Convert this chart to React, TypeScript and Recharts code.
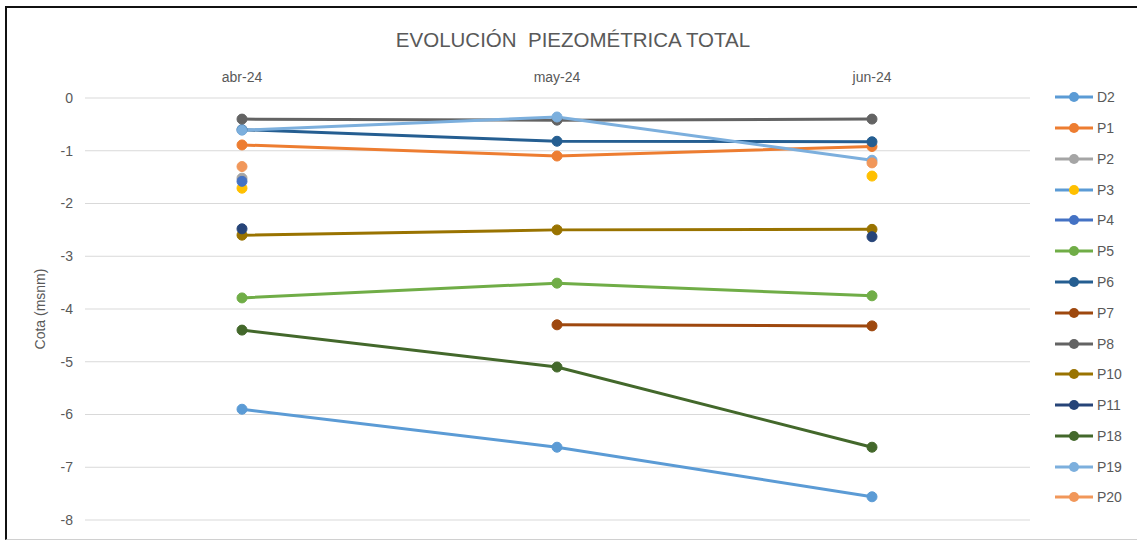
import React from 'react';
import { LineChart, Line, XAxis, YAxis, CartesianGrid, Legend } from 'recharts';

// Months on the (top) category axis
const months = ['abr-24', 'may-24', 'jun-24'];

// Piezometric level (msnm) per well, one value per month; null = no reading
const d2 = [-5.9, -6.62, -7.56];
const p1 = [-0.89, -1.1, -0.92];
const p2 = [-1.52, null, null];
const p3 = [-1.71, null, -1.48];
const p4 = [-1.58, null, null];
const p5 = [-3.79, -3.51, -3.75];
const p6 = [-0.6, -0.82, -0.83];
const p7 = [null, -4.3, -4.32];
const p8 = [-0.4, -0.42, -0.4];
const p10 = [-2.6, -2.5, -2.49];
const p11 = [-2.48, null, -2.63];
const p18 = [-4.4, -5.1, -6.62];
const p19 = [-0.61, -0.36, -1.18];
const p20 = [-1.3, null, -1.23];

const yTicks = [0, -1, -2, -3, -4, -5, -6, -7, -8];

const seriesNames = ['D2', 'P1', 'P2', 'P3', 'P4', 'P5', 'P6', 'P7', 'P8', 'P10', 'P11', 'P18', 'P19', 'P20'];
const seriesValues = [d2, p1, p2, p3, p4, p5, p6, p7, p8, p10, p11, p18, p19, p20];

// Excel-ish palette (line colour, marker colour)
const lineColors: Record<string, string> = {
  D2: '#5B9BD5',
  P1: '#ED7D31',
  P2: '#A5A5A5',
  P3: '#5B9BD5',
  P4: '#4472C4',
  P5: '#70AD47',
  P6: '#255E91',
  P7: '#9E480E',
  P8: '#636363',
  P10: '#997300',
  P11: '#264478',
  P18: '#43682B',
  P19: '#7CAFDD',
  P20: '#F1975A',
};
const markerColors: Record<string, string> = { ...lineColors, P3: '#FFC000' };

const FONT = '"Liberation Sans", Arial, sans-serif';
const TEXT = '#595959';

const chartData = months.map((m, i) => {
  const row: Record<string, string | number | null> = { month: m };
  seriesNames.forEach((name, s) => {
    row[name] = seriesValues[s][i];
  });
  return row;
});

function renderLegend() {
  return (
    <div style={{ fontFamily: FONT, fontSize: 14, color: TEXT }}>
      {seriesNames.map((name) => (
        <div key={name} style={{ display: 'flex', alignItems: 'center', height: 30.77 }}>
          <svg width={40} height={12} style={{ marginRight: 3 }}>
            <line x1={1} y1={6} x2={39} y2={6} stroke={lineColors[name]} strokeWidth={3} />
            <circle cx={20} cy={6} r={5} fill={markerColors[name]} />
          </svg>
          <span>{name}</span>
        </div>
      ))}
    </div>
  );
}

export default function App() {
  return (
    <div style={{ position: 'fixed', left: 0, top: 0, width: 1137, height: 541, background: '#fff', overflow: 'hidden' }}>
      <div
        style={{
          position: 'absolute',
          left: 5,
          top: 6,
          width: 1150,
          height: 531,
          borderLeft: '2px solid #111',
          borderTop: '2px solid #111',
          borderBottom: '1px solid #d0d0d0',
        }}
      />
      <div
        style={{
          position: 'absolute',
          left: 0,
          width: 1146,
          top: 28,
          textAlign: 'center',
          fontFamily: FONT,
          fontSize: 20.5,
          color: TEXT,
          whiteSpace: 'pre',
        }}
      >
        {'EVOLUCIÓN  PIEZOMÉTRICA TOTAL'}
      </div>
      <div style={{ position: 'absolute', left: 0, top: 0 }}>
        <LineChart width={1137} height={541} data={chartData} margin={{ top: 55, right: 27, bottom: 21, left: 0 }}>
          <CartesianGrid vertical={false} stroke="#D9D9D9" strokeWidth={1} />
          <XAxis
            dataKey="month"
            orientation="top"
            height={43}
            axisLine={false}
            tickLine={false}
            tickMargin={10}
            padding={{ left: 157, right: 158 }}
            tick={{ fill: TEXT, fontSize: 14, fontFamily: FONT }}
          />
          <YAxis
            domain={[-8, 0]}
            ticks={yTicks}
            interval={0}
            width={85}
            axisLine={false}
            tickLine={false}
            tickMargin={6}
            tick={{ fill: TEXT, fontSize: 14, fontFamily: FONT }}
            label={{
              value: 'Cota (msnm)',
              angle: -90,
              position: 'insideLeft',
              offset: 40,
              style: { textAnchor: 'middle', fill: TEXT, fontSize: 14, fontFamily: FONT },
            }}
          />
          <Legend
            layout="vertical"
            align="right"
            verticalAlign="top"
            content={renderLegend}
            wrapperStyle={{ left: 1054, top: 82, width: 80 }}
          />
          {seriesNames.map((name) => (
            <Line
              key={name}
              type="linear"
              dataKey={name}
              stroke={lineColors[name]}
              strokeWidth={3}
              connectNulls={false}
              dot={{ r: 5, fill: markerColors[name], stroke: markerColors[name], strokeWidth: 1 }}
              activeDot={false}
              isAnimationActive={false}
            />
          ))}
        </LineChart>
      </div>
    </div>
  );
}
